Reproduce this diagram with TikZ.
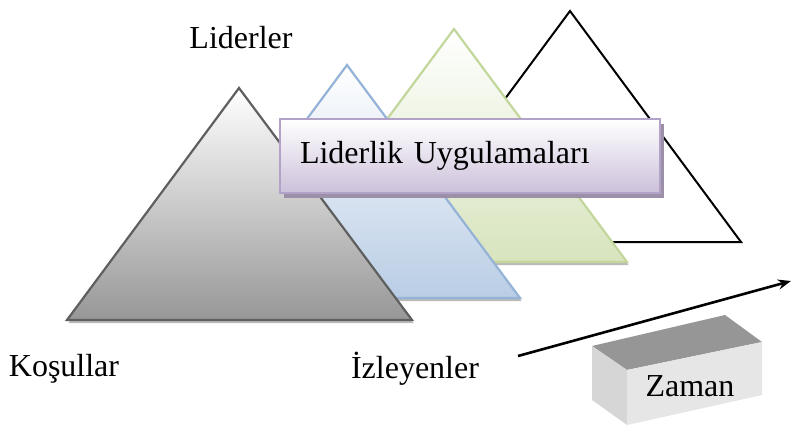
\documentclass[tikz,border=0pt]{standalone}
\usepackage{fontspec}
\setmainfont{Liberation Serif}
\usepackage{xcolor}
\usetikzlibrary{positioning,arrows.meta,shadows}

\definecolor{grayline}{HTML}{5F5F5F}
\definecolor{grayfoot}{HTML}{979797}
\definecolor{blueline}{HTML}{95B3D7}
\definecolor{bluefoot}{HTML}{B9CDE5}
\definecolor{greenline}{HTML}{C3D69B}
\definecolor{greenfoot}{HTML}{D7E4BD}
\definecolor{lilacline}{HTML}{B2A2C7}
\definecolor{lilacfoot}{HTML}{CCC0DA}
\definecolor{lilacshade}{HTML}{9B90A8}
\definecolor{boxtop}{HTML}{969696}
\definecolor{boxfront}{HTML}{E6E6E6}
\definecolor{boxside}{HTML}{D6D6D6}

\begin{document}
\begin{tikzpicture}[x=1pt,y=-1pt,
  pyr/.style={line width=2.2pt, line join=miter,
    drop shadow={shadow xshift=1.5pt, shadow yshift=-3pt, fill=black!45, opacity=0.6}},
  lbl/.style={font=\fontsize{32}{38}\selectfont, inner sep=0pt}]

  \useasboundingbox (0,0) rectangle (792,428);

  % pyramids, back to front
  \draw[line width=2pt, fill=white] (570,11) -- (741,242) -- (399,242) -- cycle;
  \draw[pyr, draw=greenline, top color=white, bottom color=greenfoot]
    (454,29) -- (627,262) -- (281,262) -- cycle;
  \draw[pyr, draw=blueline, top color=white, bottom color=bluefoot]
    (347,65) -- (520,298) -- (174,298) -- cycle;
  \draw[pyr, draw=grayline, top color=white, bottom color=grayfoot]
    (239,88) -- (412,320) -- (67,320) -- cycle;

  \node[lbl, draw=lilacline, line width=2.8pt, top color=white, bottom color=lilacfoot,
    minimum width=380pt, minimum height=74pt, text width=340pt, align=left,
    inner xsep=20pt,
    drop shadow={shadow xshift=4pt, shadow yshift=-5pt, fill=lilacshade, opacity=1}]
    (LU) at (470,156) {Liderlik Uygulamaları};

  \node[lbl] (Lid) at (241,38) {Liderler};
  \node[lbl] (Kos) at (64,369) {Koşullar};
  \node[lbl] (Izl) at (415,369) {İzleyenler};

  % time block
  \fill[boxtop] (592,346) -- (725,315) -- (762,342) -- (627,370) -- cycle;
  \fill[boxside] (592,346) -- (627,370) -- (627,425) -- (592,400) -- cycle;
  \fill[boxfront] (627,370) -- (762,342) -- (762,395) -- (627,425) -- cycle;
  \node[lbl] (Zam) at (690,386) {Zaman};

  \coordinate (T0) at (518,356);
  \coordinate (T1) at (791,281);
  \draw[line width=2.6pt, -{Stealth[length=13pt,width=10pt]}] (T0) -- (T1);

\end{tikzpicture}
\end{document}
